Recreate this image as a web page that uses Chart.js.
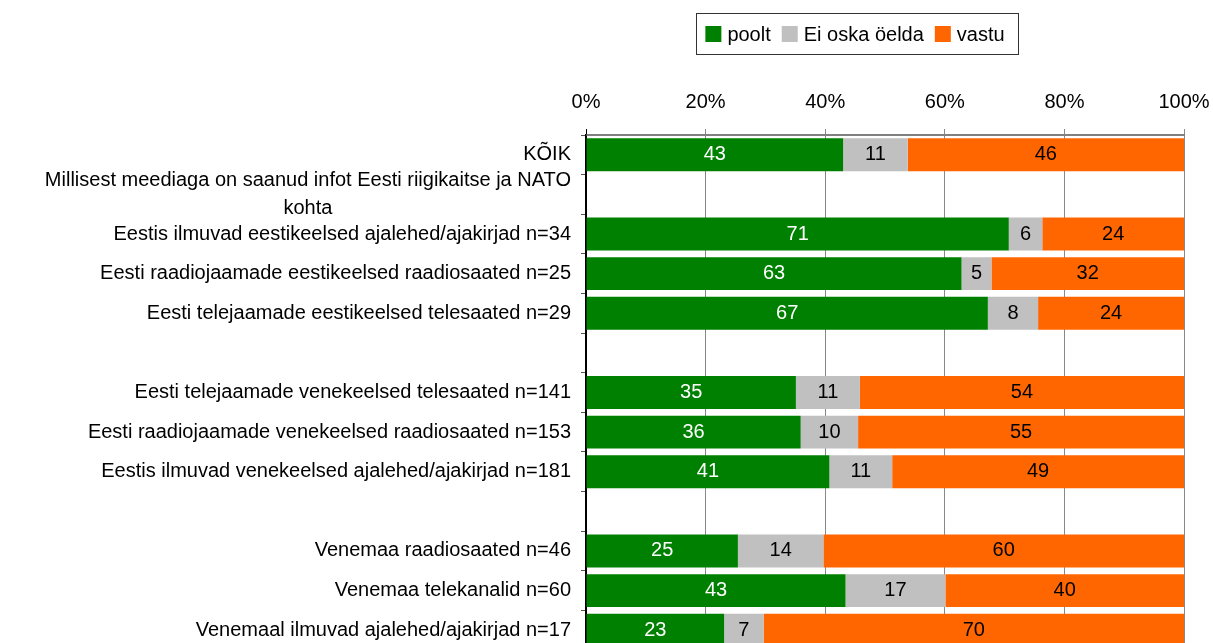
<!DOCTYPE html>
<html>
<head>
<meta charset="utf-8">
<script src="https://cdn.jsdelivr.net/npm/chart.js@4.4.1/dist/chart.umd.min.js"></script>
<style>
  html, body { margin: 0; padding: 0; background: #fff; overflow: hidden; }
  #wrap { width: 1213px; height: 650px; }
</style>
</head>
<body>
<div id="wrap"><canvas id="chart"></canvas></div>
<script>
// Categories (empty strings are spacer rows)
const categories = [
  'KÕIK',
  ['Millisest meediaga on saanud infot Eesti riigikaitse ja NATO', 'kohta'],
  'Eestis ilmuvad eestikeelsed ajalehed/ajakirjad n=34',
  'Eesti raadiojaamade eestikeelsed raadiosaated n=25',
  'Eesti telejaamade eestikeelsed telesaated n=29',
  '',
  'Eesti telejaamade venekeelsed telesaated n=141',
  'Eesti raadiojaamade venekeelsed raadiosaated n=153',
  'Eestis ilmuvad venekeelsed ajalehed/ajakirjad n=181',
  '',
  'Venemaa raadiosaated n=46',
  'Venemaa telekanalid n=60',
  'Venemaal ilmuvad ajalehed/ajakirjad n=17'
];

const seriesNames = ['poolt', 'Ei oska öelda', 'vastu'];
const poolt  = [43.0, null, 70.7, 62.8, 67.2, null, 35.1, 35.9, 40.7, null, 25.4, 43.4, 23.1];
const eiOska = [10.8, null,  5.6,  5.0,  8.4, null, 10.7,  9.6, 10.5, null, 14.3, 16.7,  6.6];
const vastu  = [46.2, null, 23.7, 32.2, 24.4, null, 54.2, 54.5, 48.8, null, 60.3, 39.9, 70.3];
const tickLabels = ['0%', '20%', '40%', '60%', '80%', '100%'];

const FONT = '"Liberation Sans", Arial, sans-serif';
const FONT_SIZE = 20;

// Value labels inside the bars
const barLabels = {
  id: 'barLabels',
  afterDatasetsDraw(chart) {
    const ctx = chart.ctx;
    ctx.save();
    ctx.font = `${FONT_SIZE}px ${FONT}`;
    ctx.textAlign = 'center';
    ctx.textBaseline = 'middle';
    chart.data.datasets.forEach((ds, di) => {
      const meta = chart.getDatasetMeta(di);
      meta.data.forEach((el, i) => {
        const v = ds.data[i];
        if (v === null || v === undefined) return;
        ctx.fillStyle = di === 0 ? '#ffffff' : '#000000';
        ctx.fillText(Math.round(v), (el.x + el.base) / 2, el.y);
      });
    });
    ctx.restore();
  }
};

// Category labels: block right aligned, lines centered within block
const catLabels = {
  id: 'catLabels',
  afterDraw(chart) {
    const ctx = chart.ctx;
    const y = chart.scales.y;
    ctx.save();
    ctx.font = `${FONT_SIZE}px ${FONT}`;
    ctx.fillStyle = '#000';
    ctx.textAlign = 'center';
    ctx.textBaseline = 'middle';
    categories.forEach((lab, i) => {
      const lines = Array.isArray(lab) ? lab : [lab];
      const widest = Math.max(...lines.map(l => ctx.measureText(l).width));
      const cx = y.right - 15 - widest / 2;
      const cy = y.getPixelForValue(i);
      lines.forEach((l, j) => {
        ctx.fillText(l, cx, cy + (j - (lines.length - 1) / 2) * 28);
      });
    });
    ctx.restore();
  }
};

// Boxed legend above the plot
const boxLegend = {
  id: 'boxLegend',
  afterDraw(chart) {
    const ctx = chart.ctx;
    ctx.save();
    ctx.font = `${FONT_SIZE}px ${FONT}`;
    ctx.textBaseline = 'middle';
    const box = 16, gapText = 6, gapItem = 11;
    const widths = chart.data.datasets.map(ds => box + gapText + ctx.measureText(ds.label).width);
    const total = widths.reduce((a, b) => a + b, 0) + gapItem * (widths.length - 1);
    const cx = 855, cy = 34;
    const start = cx - total / 2;
    let x = start;
    chart.data.datasets.forEach((ds, i) => {
      ctx.fillStyle = ds.backgroundColor;
      ctx.fillRect(x, cy - box / 2, box, box);
      ctx.fillStyle = '#000';
      ctx.textAlign = 'left';
      ctx.fillText(ds.label, x + box + gapText, cy + 1);
      x += widths[i] + gapItem;
    });
    ctx.strokeStyle = '#333';
    ctx.lineWidth = 1;
    ctx.strokeRect(Math.round(start - 9) + 0.5, 13.5, Math.round(total + 23), 41);
    ctx.restore();
  }
};

new Chart(document.getElementById('chart'), {
  type: 'bar',
  data: {
    labels: categories,
    datasets: [
      { label: seriesNames[0], data: poolt,  backgroundColor: '#008000' },
      { label: seriesNames[1], data: eiOska, backgroundColor: '#c0c0c0' },
      { label: seriesNames[2], data: vastu,  backgroundColor: '#ff6600' }
    ]
  },
  options: {
    indexAxis: 'y',
    responsive: true,
    maintainAspectRatio: false,
    animation: false,
    layout: { padding: { top: 75, right: 29, bottom: 0, left: 0 } },
    datasets: { bar: { categoryPercentage: 1, barPercentage: 0.83 } },
    plugins: {
      legend: { display: false },
      tooltip: { enabled: false }
    },
    scales: {
      x: {
        position: 'top',
        stacked: true,
        min: 0,
        max: 100,
        afterFit(scale) {
          scale.height = 60;
          scale.paddingLeft = 0;
          scale.paddingRight = 0;
        },
        ticks: {
          stepSize: 20,
          padding: 15,
          color: '#000',
          font: { family: FONT, size: FONT_SIZE },
          callback: (v, i) => tickLabels[i]
        },
        grid: {
          color: ctx => (ctx.tick && ctx.tick.value === 0) ? '#000' : '#888888',
          tickLength: 6,
          lineWidth: 1
        },
        border: { color: '#808080', width: 2 }
      },
      y: {
        stacked: true,
        z: 1,
        afterFit(scale) { scale.width = 586; },
        ticks: { display: false, autoSkip: false },
        grid: {
          drawOnChartArea: false,
          tickLength: 5,
          color: '#555'
        },
        border: { color: '#000', width: 1.5 }
      }
    }
  },
  plugins: [barLabels, catLabels, boxLegend]
});
</script>
</body>
</html>
